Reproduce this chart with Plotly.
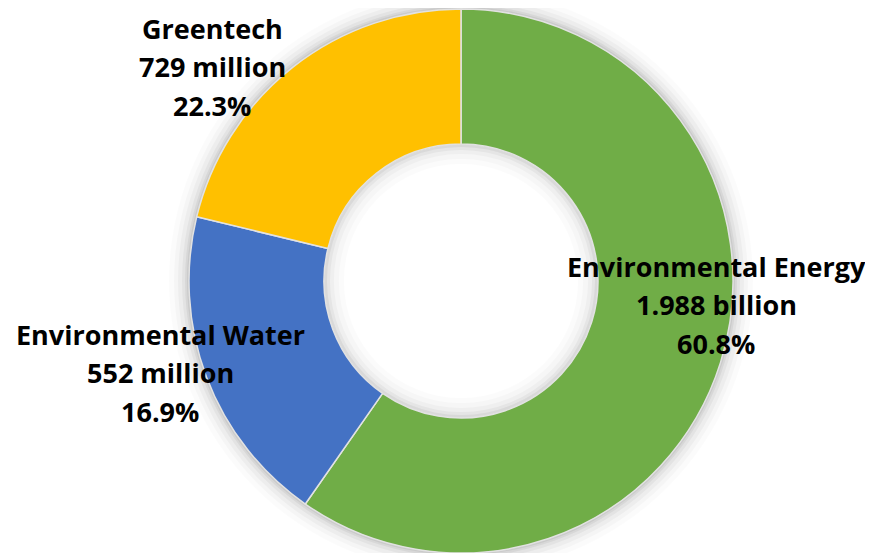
import plotly.graph_objects as go

# segment data
segments = ["Environmental Energy", "Environmental Water", "Greentech"]
value_text = ["1.988 billion", "552 million", "729 million"]
pct_text = ["60.8%", "16.9%", "22.3%"]
# slice shares (%) as drawn in the chart
slice_share = [59.7, 19.1, 21.2]
colors = ["#70AD47", "#4472C4", "#FFC000"]

W, H = 873, 553
OFF = 8  # page body margin

# donut box in pixels (page coords minus body margin)
cx, cy, r, rin = 461 - OFF, 281 - OFF, 272, 137


def dom(rad):
    return dict(x=[(cx - rad) / W, (cx + rad) / W],
                y=[max(0, 1 - (cy + rad) / H), min(1, 1 - (cy - rad) / H)])


def circle(rad, fill):
    return dict(type="circle", xref="paper", yref="paper", layer="below",
                x0=(cx - rad) / W, x1=(cx + rad) / W,
                y0=1 - (cy + rad) / H, y1=1 - (cy - rad) / H,
                fillcolor=fill, line=dict(width=0))


fig = go.Figure()

# soft outer shadow
shapes = [circle(r + k, f"rgba(0,0,0,{a})")
          for k, a in [(20, 0.015), (15, 0.022), (11, 0.03), (7, 0.04), (4, 0.05), (2, 0.06)]]
shapes.append(circle(rin, "white"))

# soft inner shadow inside the hole
for k, a in [(20, 0.015), (15, 0.02), (10, 0.028), (6, 0.038), (3, 0.05)]:
    fig.add_trace(go.Pie(
        values=[1], labels=["s"], hole=(rin - k) / rin, domain=dom(rin),
        marker=dict(colors=[f"rgba(0,0,0,{a})"], line=dict(width=0)),
        textinfo="none", hoverinfo="skip", sort=False, showlegend=False,
    ))

fig.add_trace(go.Pie(
    labels=segments, values=slice_share, hole=rin / r, domain=dom(r),
    sort=False, direction="clockwise", rotation=0,
    marker=dict(colors=colors, line=dict(color="#E2E2E2", width=1.5)),
    textinfo="none", showlegend=False,
))

# label blocks: (centre x px, first line y px)
label_pos = [(716, 266), (160, 334), (212, 28)]
for name, vt, pc, (lx, ly) in zip(segments, value_text, pct_text, label_pos):
    for i, line in enumerate([name, vt, pc]):
        fig.add_annotation(
            x=(lx - OFF) / W, y=1 - (ly - OFF + i * 38.5) / H,
            xref="paper", yref="paper",
            text=f"<b>{line}</b>", showarrow=False, xanchor="center", yanchor="middle",
            font=dict(family="Open Sans", size=27, color="black"),
        )

fig.update_layout(
    width=W, height=H, margin=dict(l=0, r=0, t=0, b=0),
    paper_bgcolor="white", plot_bgcolor="white", shapes=shapes,
)

fig.write_html("out.html")
